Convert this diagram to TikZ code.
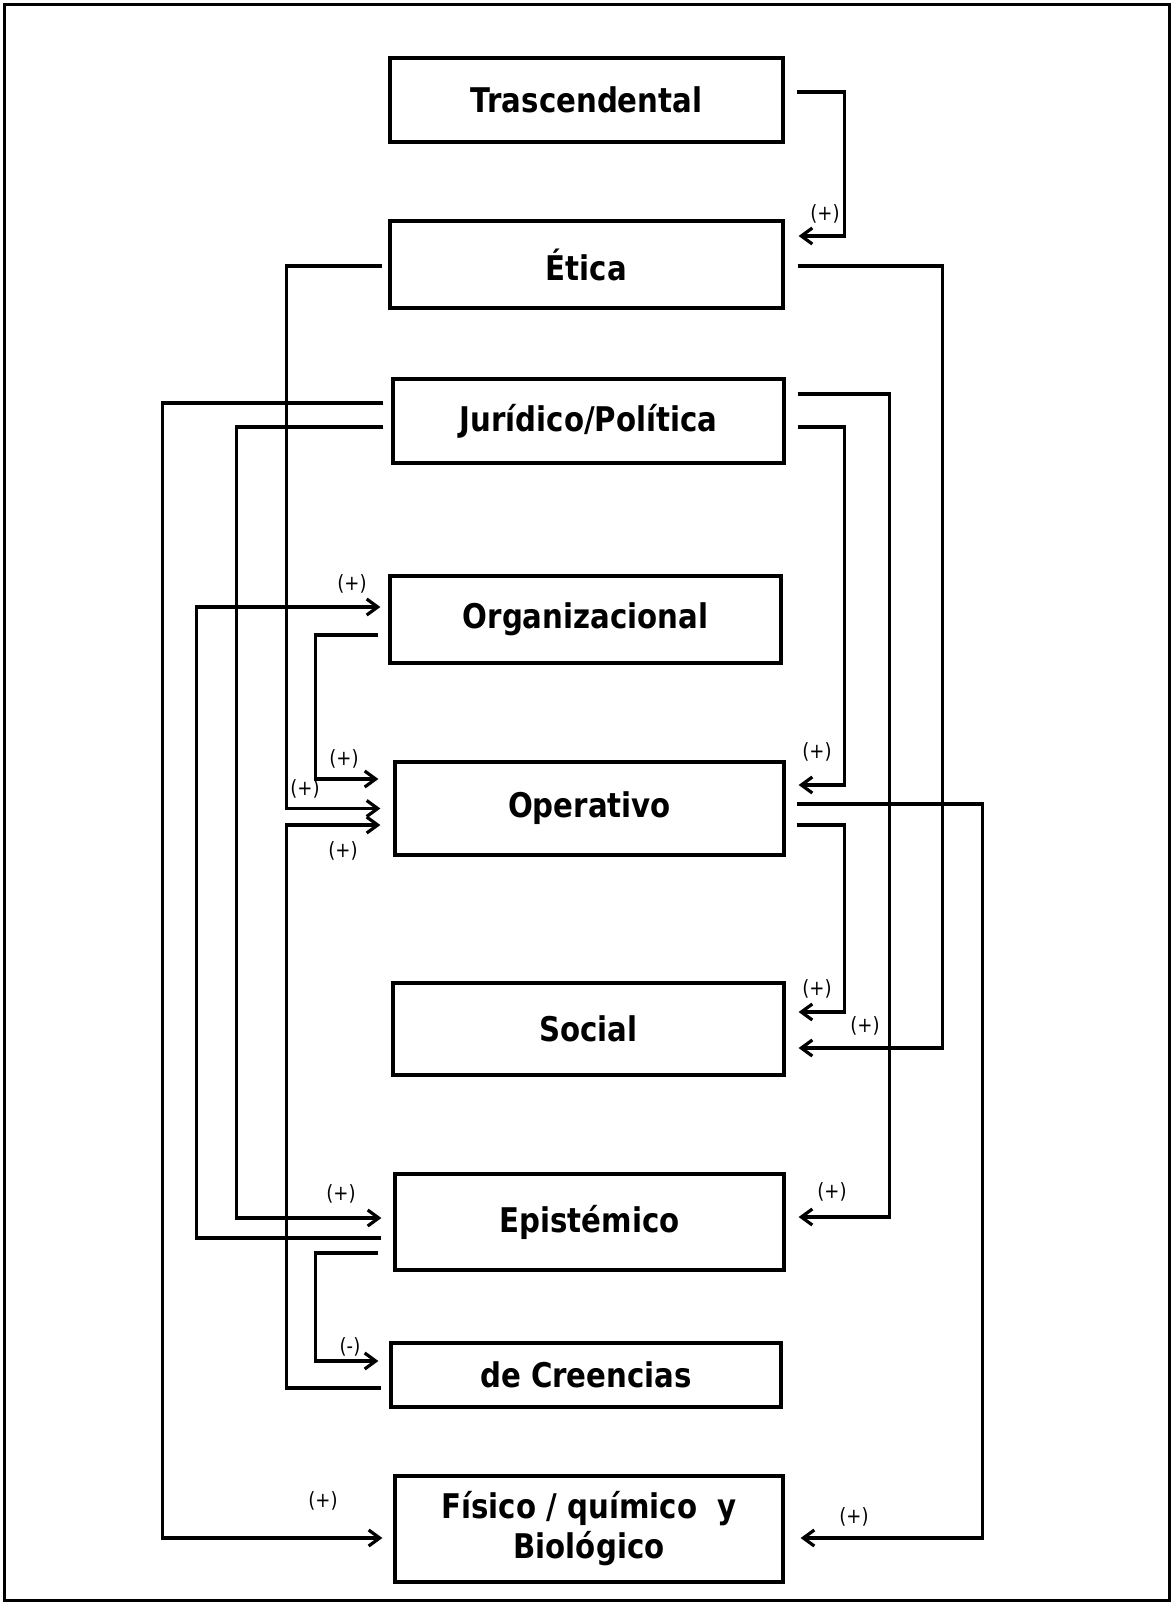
\documentclass[tikz,border=0pt]{standalone}
\usepackage{fontspec}
\setmainfont{DejaVu Sans}[FakeStretch=0.86]
\usetikzlibrary{arrows.meta}

\tikzset{
	caja/.style={draw, line width=3.2pt, inner sep=0pt, minimum width=391pt, align=center,
		font=\fontsize{34}{40}\selectfont\bfseries},
	enlace/.style={line width=3.2pt, -{Straight Barb[length=11pt,width=16pt]}},
	signo/.style={font=\fontsize{21}{23}\selectfont}
}

\begin{document}
\begin{tikzpicture}[x=1pt,y=-1pt]
	\useasboundingbox (0,0) rectangle (1173,1603);
	\draw[line width=3pt] (4,5) rectangle (1169,1600);

	% niveles
	\node[caja, minimum width=393pt, minimum height=84pt] (trasc) at (586.5,100) {Trascendental};
	\node[caja, minimum width=393pt, minimum height=87pt] (etica) at (586.5,264.5) {Ética};
	\node[caja, minimum height=84pt] (juridico) at (588.5,421) {Jurídico/Política};
	\node[caja, minimum height=87pt] (organiz) at (585.5,619.5) {Organizacional};
	\node[caja, minimum width=389pt, minimum height=93pt] (operativo) at (589.5,808.5) {Operativo};
	\node[caja, minimum height=92pt] (social) at (588.5,1029) {Social};
	\node[caja, minimum width=389pt, minimum height=96pt] (epist) at (589.5,1222) {Epistémico};
	\node[caja, minimum width=390pt, minimum height=64pt] (creencias) at (586,1375) {de Creencias};
	\node[caja, minimum width=388pt, minimum height=106pt] (fisico) at (589,1529) {Físico / químico \ y\\Biológico};

	% lado derecho
	\draw[enlace] ([xshift=12pt,yshift=8pt]trasc.east) -- ++(48,0) |- ([xshift=14pt,yshift=28.5pt]etica.east);
	\draw[enlace] ([xshift=13pt,yshift=-1.5pt]etica.east) -- ++(145,0) |- ([xshift=13pt,yshift=-19pt]social.east);
	\draw[enlace] ([xshift=12pt,yshift=27pt]juridico.east) -- ++(92,0) |- ([xshift=13pt,yshift=5pt]epist.east);
	\draw[enlace] ([xshift=12pt,yshift=-6pt]juridico.east) -- ++(47,0) |- ([xshift=13pt,yshift=23.5pt]operativo.east);
	\draw[enlace] ([xshift=11pt,yshift=4.5pt]operativo.east) -- ++(186,0) |- ([xshift=16pt,yshift=-9pt]fisico.east);
	\draw[enlace] ([xshift=11pt,yshift=-16.5pt]operativo.east) -- ++(48,0) |- ([xshift=13pt,yshift=17pt]social.east);

	% lado izquierdo
	\draw[enlace] ([xshift=-6pt,yshift=-1.5pt]etica.west) -- ++(-96,0) |- ([xshift=-13pt]operativo.west);
	\draw[enlace] ([xshift=-8pt,yshift=-13pt]creencias.west) -- ++(-95,0) |- ([xshift=-13pt,yshift=-16.5pt]operativo.west);
	\draw[enlace] ([xshift=-10pt,yshift=-15.5pt]organiz.west) -- ++(-63,0) |- ([xshift=-15pt,yshift=29.5pt]operativo.west);
	\draw[enlace] ([xshift=-12pt,yshift=-16pt]epist.west) -- ++(-185,0) |- ([xshift=-8pt,yshift=12.5pt]organiz.west);
	\draw[enlace] ([xshift=-8pt,yshift=-6pt]juridico.west) -- ++(-147,0) |- ([xshift=-12pt,yshift=4pt]epist.west);
	\draw[enlace] ([xshift=-8pt,yshift=18pt]juridico.west) -- ++(-221,0) |- ([xshift=-11pt,yshift=-9pt]fisico.west);
	\draw[enlace] ([xshift=-15pt,yshift=-31pt]epist.west) -- ++(-63,0) |- ([xshift=-11pt,yshift=14pt]creencias.west);

	% signos
	\node[signo] (s1) at (825,214) {(+)};
	\node[signo] (s2) at (865,1026) {(+)};
	\node[signo] (s3) at (832,1192) {(+)};
	\node[signo] (s4) at (817,752) {(+)};
	\node[signo] (s5) at (854,1517) {(+)};
	\node[signo] (s6) at (817,989) {(+)};
	\node[signo] (s7) at (305,789) {(+)};
	\node[signo] (s8) at (343,851) {(+)};
	\node[signo] (s9) at (344,759) {(+)};
	\node[signo] (s10) at (352,584) {(+)};
	\node[signo] (s11) at (341,1194) {(+)};
	\node[signo] (s12) at (323,1501) {(+)};
	\node[signo] (s13) at (350,1347) {(-)};
\end{tikzpicture}
\end{document}
